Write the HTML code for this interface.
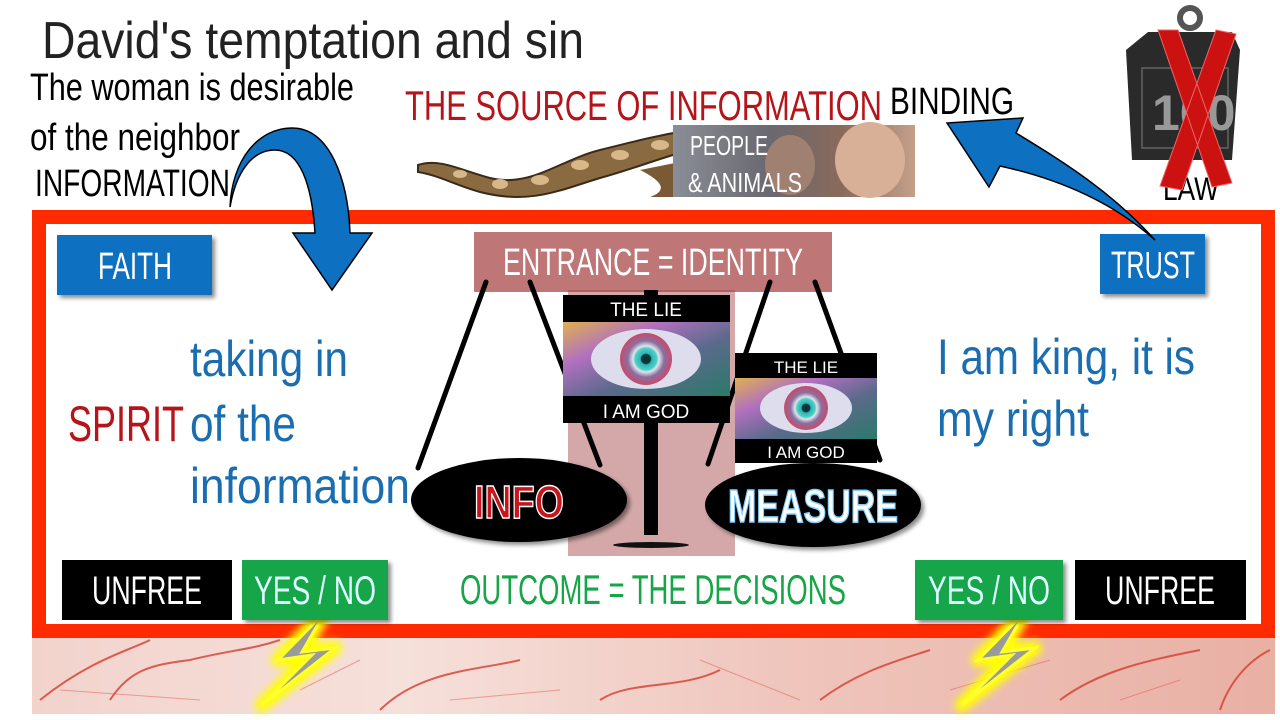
<!DOCTYPE html>
<html><head><meta charset="utf-8"><style>
html,body{margin:0;padding:0;background:#fff;}
svg{display:block;}
text{font-family:"Liberation Sans Narrow","Liberation Sans",sans-serif;}
</style></head><body>
<svg width="1280" height="720" viewBox="0 0 1280 720" xmlns="http://www.w3.org/2000/svg">
<defs>
<radialGradient id="eye" cx="50%" cy="50%" r="50%">
<stop offset="0" stop-color="#0b2f33"/><stop offset="0.18" stop-color="#0b3a3f"/><stop offset="0.22" stop-color="#2bb4b4"/><stop offset="0.42" stop-color="#4fd0c8"/><stop offset="0.5" stop-color="#dfe6ea"/><stop offset="0.7" stop-color="#8a6fa0"/><stop offset="1" stop-color="#c84a6a"/>
</radialGradient>
<linearGradient id="eyebg" x1="0" y1="0" x2="1" y2="1">
<stop offset="0" stop-color="#e0b050"/><stop offset="0.3" stop-color="#b070c0"/><stop offset="0.6" stop-color="#5a6a8a"/><stop offset="1" stop-color="#2a7a6a"/>
</linearGradient>
<linearGradient id="brain" x1="0" y1="0" x2="1" y2="0">
<stop offset="0" stop-color="#f2d3cc"/><stop offset="0.3" stop-color="#f6e0da"/><stop offset="0.6" stop-color="#efc6bd"/><stop offset="1" stop-color="#e9b0a4"/>
</linearGradient>
<linearGradient id="people" x1="0" y1="0" x2="1" y2="0">
<stop offset="0" stop-color="#8a8e96"/><stop offset="0.4" stop-color="#6a6870"/><stop offset="0.7" stop-color="#8a6a5a"/><stop offset="1" stop-color="#c4a08a"/>
</linearGradient>
<filter id="glow" x="-50%" y="-50%" width="200%" height="200%"><feGaussianBlur stdDeviation="4"/></filter>
<filter id="sh" x="-10%" y="-10%" width="130%" height="130%"><feDropShadow dx="3" dy="3" stdDeviation="2" flood-opacity="0.45"/></filter>
</defs>

<text x="42" y="58" font-size="52" fill="#222" textLength="542" lengthAdjust="spacingAndGlyphs">David's temptation and sin</text>
<text x="30" y="100" font-size="38" fill="#000" textLength="324" lengthAdjust="spacingAndGlyphs">The woman is desirable</text>
<text x="30" y="150" font-size="38" fill="#000" textLength="210" lengthAdjust="spacingAndGlyphs">of the neighbor</text>
<text x="35" y="196" font-size="38" fill="#000" textLength="195" lengthAdjust="spacingAndGlyphs">INFORMATION</text>

<text x="405" y="120" font-size="42" fill="#b5141a" textLength="477" lengthAdjust="spacingAndGlyphs">THE SOURCE OF INFORMATION</text>
<text x="890" y="114" font-size="38" fill="#000" textLength="124" lengthAdjust="spacingAndGlyphs">BINDING</text>

<!-- snake -->
<path d="M418,165 C440,158 460,170 490,178 C530,188 560,160 600,150 C640,140 660,135 690,130 L690,150 C660,158 630,170 600,178 C560,190 530,205 480,192 C455,185 438,175 418,172 Z" fill="#8a6a40" stroke="#3a2a18" stroke-width="2"/>
<g fill="#d8b888"><ellipse cx="500" cy="184" rx="8" ry="5"/><ellipse cx="540" cy="180" rx="9" ry="5"/><ellipse cx="580" cy="165" rx="9" ry="5"/><ellipse cx="620" cy="155" rx="9" ry="5"/><ellipse cx="660" cy="145" rx="9" ry="5"/><ellipse cx="460" cy="174" rx="7" ry="4"/></g>
<path d="M640,170 C660,180 670,190 650,197 L690,197 L690,160 Z" fill="#7a5a35"/>
<rect x="673" y="125" width="242" height="72" fill="url(#people)"/>
<ellipse cx="870" cy="160" rx="35" ry="38" fill="#d8b098"/>
<ellipse cx="790" cy="165" rx="25" ry="30" fill="#a08070"/>
<text x="690" y="155" font-size="28" fill="#fff" textLength="78" lengthAdjust="spacingAndGlyphs">PEOPLE</text>
<text x="688" y="192" font-size="28" fill="#fff" textLength="114" lengthAdjust="spacingAndGlyphs">&amp; ANIMALS</text>

<!-- weight -->
<circle cx="1190" cy="18" r="10" fill="none" stroke="#555" stroke-width="6"/>
<path d="M1148,32 L1232,32 L1240,50 L1232,160 L1132,160 L1126,50 Z" fill="#2a2a2a"/>
<rect x="1142" y="68" width="86" height="80" fill="none" stroke="#555" stroke-width="2"/>
<text x="1152" y="130" font-size="50" fill="#999" font-weight="bold">100</text>
<text x="1163" y="200" font-size="32" fill="#000" textLength="56" lengthAdjust="spacingAndGlyphs">LAW</text>
<path d="M1158,30 L1178,30 L1232,183 L1212,187 Z M1216,30 L1236,34 L1182,190 L1160,186 Z" fill="#cc1111" stroke="#e66" stroke-width="1"/>

<!-- brain strip -->
<rect x="32" y="638" width="1243" height="76" fill="url(#brain)"/>
<g stroke="#d53c2f" stroke-width="2" fill="none" opacity="0.8">
<path d="M40,700 C90,660 130,650 150,640 M110,700 C130,670 150,665 190,660 C230,650 250,650 280,640 M380,710 C420,670 480,670 520,660 M600,700 C630,680 680,690 720,670 M820,700 C860,670 900,660 930,650 M1060,700 C1100,670 1150,660 1200,650 M1220,710 C1230,680 1250,660 1270,650"/>
</g>
<g stroke="#e05a50" stroke-width="1" fill="none" opacity="0.5">
<path d="M60,690 L200,700 M300,690 L360,660 M450,700 L560,690 M700,660 L800,700 M950,690 L1050,660 M1120,700 L1180,680"/>
</g>

<rect x="39" y="217" width="1229" height="414" fill="#fff" stroke="#ff2a00" stroke-width="14"/>

<!-- lightning -->
<g>
<path d="M325,612 L278,660 L312,655 L262,705 L335,648 L302,652 Z" fill="#ffff00" stroke="#ffff00" stroke-width="14" stroke-linejoin="round" filter="url(#glow)"/>
<path d="M325,612 L278,660 L312,655 L262,705 L335,648 L302,652 Z" fill="#9a9a9a" stroke="#ffff30" stroke-width="3"/>
<path d="M1025,612 L978,660 L1012,655 L962,705 L1035,648 L1002,652 Z" fill="#ffff00" stroke="#ffff00" stroke-width="14" stroke-linejoin="round" filter="url(#glow)"/>
<path d="M1025,612 L978,660 L1012,655 L962,705 L1035,648 L1002,652 Z" fill="#9a9a9a" stroke="#ffff30" stroke-width="3"/>
</g>

<rect x="568" y="290" width="167" height="266" fill="#d4a8a8"/>

<rect x="474" y="232" width="358" height="60" fill="#a84848" opacity="0.75"/>
<text x="653" y="275" font-size="38" fill="#fff" text-anchor="middle" textLength="300" lengthAdjust="spacingAndGlyphs">ENTRANCE = IDENTITY</text>

<g stroke="#000" stroke-width="5" stroke-linecap="round">
<line x1="486" y1="282" x2="418" y2="468"/>
<line x1="530" y1="282" x2="600" y2="465"/>
<line x1="770" y1="282" x2="708" y2="464"/>
<line x1="815" y1="282" x2="880" y2="460"/>
</g>
<rect x="644" y="290" width="14" height="245" fill="#000"/>
<ellipse cx="651" cy="545" rx="38" ry="3" fill="#111"/>

<rect x="563" y="295" width="167" height="128" fill="#000"/>
<rect x="563" y="322" width="167" height="74" fill="url(#eyebg)"/>
<ellipse cx="646" cy="359" rx="55" ry="30" fill="#dde"/>
<circle cx="646" cy="359" r="26" fill="url(#eye)"/>
<text x="646" y="316" font-size="19" fill="#fff" text-anchor="middle">THE LIE</text>
<text x="646" y="418" font-size="19" fill="#fff" text-anchor="middle">I AM GOD</text>
<rect x="735" y="353" width="142" height="110" fill="#000"/>
<rect x="735" y="378" width="142" height="61" fill="url(#eyebg)"/>
<ellipse cx="806" cy="408" rx="46" ry="25" fill="#dde"/>
<circle cx="806" cy="408" r="22" fill="url(#eye)"/>
<text x="806" y="373" font-size="17" fill="#fff" text-anchor="middle">THE LIE</text>
<text x="806" y="458" font-size="17" fill="#fff" text-anchor="middle">I AM GOD</text>

<ellipse cx="519" cy="500" rx="108" ry="42" fill="#000" filter="url(#sh)"/>
<text x="519" y="518" font-size="46" font-weight="bold" fill="#c8141a" stroke="#fff" stroke-width="1.5" text-anchor="middle" textLength="90" lengthAdjust="spacingAndGlyphs">INFO</text>
<ellipse cx="813" cy="505" rx="108" ry="42" fill="#000" filter="url(#sh)"/>
<text x="813" y="522" font-size="46" font-weight="bold" fill="#fff" stroke="#7fd0ff" stroke-width="1.5" text-anchor="middle" textLength="170" lengthAdjust="spacingAndGlyphs">MEASURE</text>

<rect x="57" y="235" width="155" height="60" fill="#0d70c0" filter="url(#sh)"/>
<text x="135" y="279" font-size="38" fill="#fff" text-anchor="middle" textLength="74" lengthAdjust="spacingAndGlyphs">FAITH</text>
<rect x="1100" y="234" width="105" height="60" fill="#0d70c0" filter="url(#sh)"/>
<text x="1153" y="278" font-size="38" fill="#fff" text-anchor="middle" textLength="84" lengthAdjust="spacingAndGlyphs">TRUST</text>

<text x="190" y="376" font-size="50" fill="#1a6eb0" textLength="158" lengthAdjust="spacingAndGlyphs">taking in</text>
<text x="68" y="441" font-size="50" fill="#b5141a" textLength="116" lengthAdjust="spacingAndGlyphs">SPIRIT</text>
<text x="190" y="441" font-size="50" fill="#1a6eb0" textLength="106" lengthAdjust="spacingAndGlyphs">of the</text>
<text x="190" y="503" font-size="50" fill="#1a6eb0" textLength="220" lengthAdjust="spacingAndGlyphs">information</text>
<text x="937" y="374" font-size="50" fill="#1a6eb0" textLength="258" lengthAdjust="spacingAndGlyphs">I am king, it is</text>
<text x="937" y="436" font-size="50" fill="#1a6eb0" textLength="152" lengthAdjust="spacingAndGlyphs">my right</text>

<rect x="62" y="560" width="170" height="60" fill="#000"/>
<text x="147" y="604" font-size="40" fill="#fff" text-anchor="middle" textLength="110" lengthAdjust="spacingAndGlyphs">UNFREE</text>
<rect x="242" y="560" width="146" height="60" fill="#17a548" filter="url(#sh)"/>
<text x="315" y="604" font-size="40" fill="#dff" text-anchor="middle" textLength="122" lengthAdjust="spacingAndGlyphs">YES / NO</text>
<text x="460" y="604" font-size="42" fill="#17a548" textLength="386" lengthAdjust="spacingAndGlyphs">OUTCOME = THE DECISIONS</text>
<rect x="915" y="560" width="148" height="60" fill="#17a548" filter="url(#sh)"/>
<text x="989" y="604" font-size="40" fill="#dff" text-anchor="middle" textLength="122" lengthAdjust="spacingAndGlyphs">YES / NO</text>
<rect x="1075" y="560" width="171" height="60" fill="#000"/>
<text x="1160" y="604" font-size="40" fill="#fff" text-anchor="middle" textLength="110" lengthAdjust="spacingAndGlyphs">UNFREE</text>

<path d="M230,207 C232,160 258,128 292,128 C330,128 348,180 350,233 L372,233 L332,290 L293,233 L315,233 C312,185 300,150 275,150 C252,150 236,172 230,207 Z" fill="#0d70c0" stroke="#000" stroke-width="1.5"/>
<path d="M1155,240 C1110,190 1060,160 1016,133 L1023,118 L947,123 L989,187 L1000,166 C1055,178 1110,200 1155,240 Z" fill="#0d70c0" stroke="#000" stroke-width="1.5"/>
</svg>
</body></html>
